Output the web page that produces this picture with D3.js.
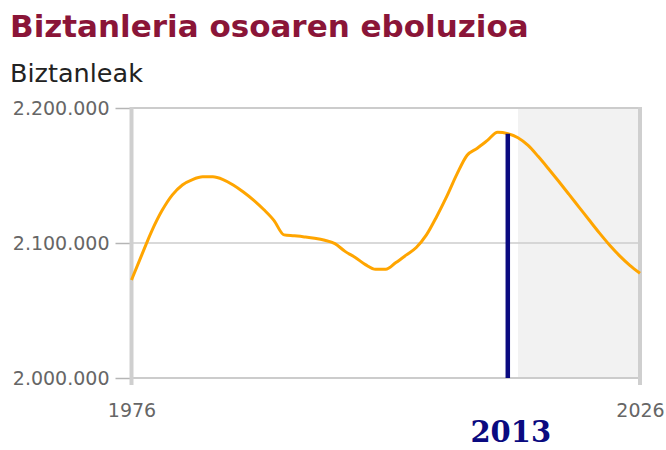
<!DOCTYPE html>
<html>
<head>
<meta charset="utf-8">
<script src="https://cdn.jsdelivr.net/npm/d3@7/dist/d3.min.js"></script>
<style>
  html, body { margin: 0; padding: 0; background: #ffffff; }
  svg { display: block; }
</style>
</head>
<body>
<script>
// Total population, Basque Country: observed up to 2013, projected afterwards
const years = [1976, 1977, 1978, 1979, 1980, 1981, 1982, 1983, 1984, 1985,
               1986, 1987, 1988, 1989, 1990, 1991, 1992, 1993, 1994, 1995,
               1996, 1997, 1998, 1999, 2000, 2001, 2002, 2003, 2004, 2005,
               2006, 2007, 2008, 2009, 2010, 2011, 2012, 2013, 2014, 2015,
               2016, 2017, 2018, 2019, 2020, 2021, 2022, 2023, 2024, 2025,
               2026];
const population = [2072600, 2091000, 2109000, 2124000, 2135500, 2143000, 2147000, 2149000, 2149000, 2147000,
                    2143000, 2137800, 2131800, 2124800, 2116800, 2106000, 2105300, 2104500, 2103500, 2102000,
                    2099500, 2093800, 2089300, 2084000, 2080500, 2080500, 2085500, 2091000, 2096700, 2106000,
                    2119500, 2134500, 2151000, 2165000, 2170200, 2176000, 2182000, 2181000, 2178000, 2172300,
                    2164000, 2155000, 2145700, 2136200, 2126600, 2117000, 2107500, 2098500, 2090500, 2083500,
                    2077600];
const yTicks = [2000000, 2100000, 2200000];
const xTickYears = [1976, 2026];
const currentYear = 2013;
const projectionStart = 2014;

const titleText = "Biztanleria osoaren eboluzioa";
const unitText = "Biztanleak";

const W = 666, H = 450;
const svg = d3.select("body").append("svg").attr("width", W).attr("height", H);

const x = d3.scaleLinear().domain([1976, 2026]).range([131.5, 640]);
const y = d3.scaleLinear().domain([2000000, 2200000]).range([378, 108]);

const fmt = d3.formatLocale({ decimal: ",", thousands: ".", grouping: [3], currency: ["", ""] }).format(",");

// Titles
svg.append("text")
  .attr("x", 10).attr("y", 37)
  .attr("font-family", "DejaVu Sans, Verdana, sans-serif")
  .attr("font-weight", "bold")
  .attr("font-size", 31)
  .attr("fill", "#8a1538")
  .text(titleText);

svg.append("text")
  .attr("x", 10).attr("y", 82)
  .attr("font-family", "DejaVu Sans, Verdana, sans-serif")
  .attr("font-size", 25.5)
  .attr("fill", "#222222")
  .text(unitText);

// Projection band
svg.append("rect")
  .attr("x", x(projectionStart))
  .attr("y", y(2200000))
  .attr("width", x(2026) - x(projectionStart))
  .attr("height", y(2000000) - y(2200000))
  .attr("fill", "#f2f2f2");

// Horizontal grid lines
svg.append("g")
  .selectAll("line")
  .data(yTicks)
  .join("line")
  .attr("x1", x(1976)).attr("x2", x(2026))
  .attr("y1", d => y(d)).attr("y2", d => y(d))
  .attr("stroke", "#cccccc")
  .attr("stroke-width", d => d === 2100000 ? 1.5 : 2);

// Y axis: tick marks and labels
const yAxis = d3.axisLeft(y)
  .tickValues(yTicks)
  .tickFormat(fmt)
  .tickSize(16)
  .tickPadding(6);

const gy = svg.append("g")
  .attr("transform", `translate(${x(1976)},0)`)
  .call(yAxis);
gy.select(".domain").remove();
gy.selectAll(".tick line").attr("stroke", "#b5b5b5").attr("stroke-width", 1.5);
gy.selectAll(".tick text")
  .attr("font-family", "DejaVu Sans, Verdana, sans-serif")
  .attr("font-size", 19)
  .attr("fill", "#666666");

// Vertical frame lines at the first and last year
svg.append("g")
  .selectAll("line")
  .data(xTickYears)
  .join("line")
  .attr("x1", d => x(d)).attr("x2", d => x(d))
  .attr("y1", y(2200000) - 1).attr("y2", 385)
  .attr("stroke", "#cfcfcf")
  .attr("stroke-width", 4);

// X axis labels
const xAxis = d3.axisBottom(x)
  .tickValues(xTickYears)
  .tickFormat(d3.format("d"))
  .tickSize(0)
  .tickPadding(26);
const gx = svg.append("g")
  .attr("transform", `translate(0,${y(2000000)})`)
  .call(xAxis);
gx.select(".domain").remove();
gx.selectAll(".tick text")
  .attr("font-family", "DejaVu Sans, Verdana, sans-serif")
  .attr("font-size", 19)
  .attr("fill", "#666666");

// Population line
const line = d3.line()
  .x((d, i) => x(years[i]))
  .y(d => y(d))
  .curve(d3.curveMonotoneX);

svg.append("path")
  .datum(population)
  .attr("d", line)
  .attr("fill", "none")
  .attr("stroke", "#ffa500")
  .attr("stroke-width", 3)
  .attr("stroke-linejoin", "round");

// Current-year marker
const currentValue = population[years.indexOf(currentYear)];
svg.append("line")
  .attr("x1", x(currentYear)).attr("x2", x(currentYear))
  .attr("y1", y(currentValue)).attr("y2", y(2000000))
  .attr("stroke", "#0a0a80")
  .attr("stroke-width", 4.5);

svg.append("text")
  .attr("x", x(currentYear) + 3)
  .attr("y", 442)
  .attr("text-anchor", "middle")
  .attr("font-family", "DejaVu Serif, Liberation Serif, serif")
  .attr("font-weight", "bold")
  .attr("font-size", 29)
  .attr("fill", "#0a0a80")
  .text(currentYear);
</script>
</body>
</html>
